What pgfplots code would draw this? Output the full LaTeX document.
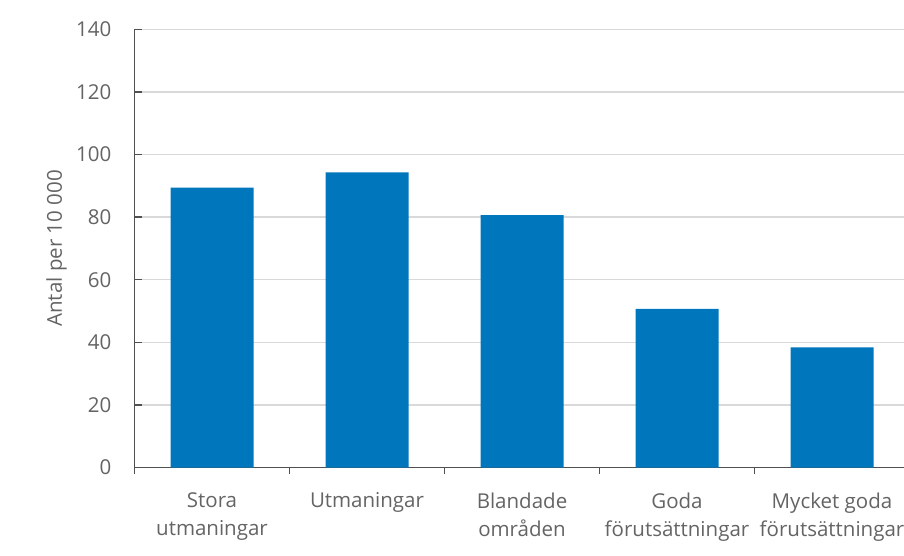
\documentclass[border=0pt]{standalone}
\usepackage{fontspec}
\setmainfont{Open Sans}
\usepackage{pgfplots}
\pgfplotsset{compat=1.18}
\definecolor{barblue}{RGB}{0,119,189}
\definecolor{txtgray}{RGB}{100,100,100}
\definecolor{axgray}{RGB}{80,80,80}
\definecolor{gridgray}{RGB}{217,217,217}
\begin{document}
\begin{tikzpicture}
\begin{axis}[
  at={(134.5pt,87.5pt)}, anchor=south west,
  scale only axis, width=775pt, height=438.2pt,
  xmin=-0.5, xmax=4.5, ymin=0, ymax=140,
  ytick={0,20,...,140},
  xtick={0,...,4},
  xticklabels={Stora\\utmaningar, Utmaningar, Blandade\\områden, Goda\\förutsättningar, Mycket goda\\förutsättningar},
  minor xtick={-0.5,0.5,...,4.5},
  axis lines*=left,
  axis line style={axgray, line width=1.4pt},
  tick align=outside,
  major tick length=7pt,
  minor tick length=6pt,
  major x tick style={draw=none},
  ytick style={axgray, line width=1.4pt, xshift=7pt},
  minor x tick style={axgray, line width=1.4pt},
  ymajorgrids,
  grid style={gridgray, line width=1.4pt},
  /pgf/number format/assume math mode=true,
  ticklabel style={font=\fontsize{20.5}{28}\selectfont, text=txtgray},
  yticklabel style={anchor=east, inner sep=0pt, xshift=-16pt},
  xticklabel style={anchor=north, inner sep=0pt, yshift=-18pt, align=center},
  ylabel={Antal per 10 000},
  ylabel style={at={(rel axis cs:0,0.5)}, anchor=center, yshift=78pt, font=\fontsize{20.5}{28}\selectfont, text=txtgray},
  ybar, bar width=83pt,
]
\addplot[fill=barblue, draw=none] coordinates {(0,89.4) (1,94.3) (2,80.6) (3,50.7) (4,38.4)};
\end{axis}
\pgfresetboundingbox
\path[use as bounding box] (0,0) rectangle (904pt,555pt);
\end{tikzpicture}
\end{document}
